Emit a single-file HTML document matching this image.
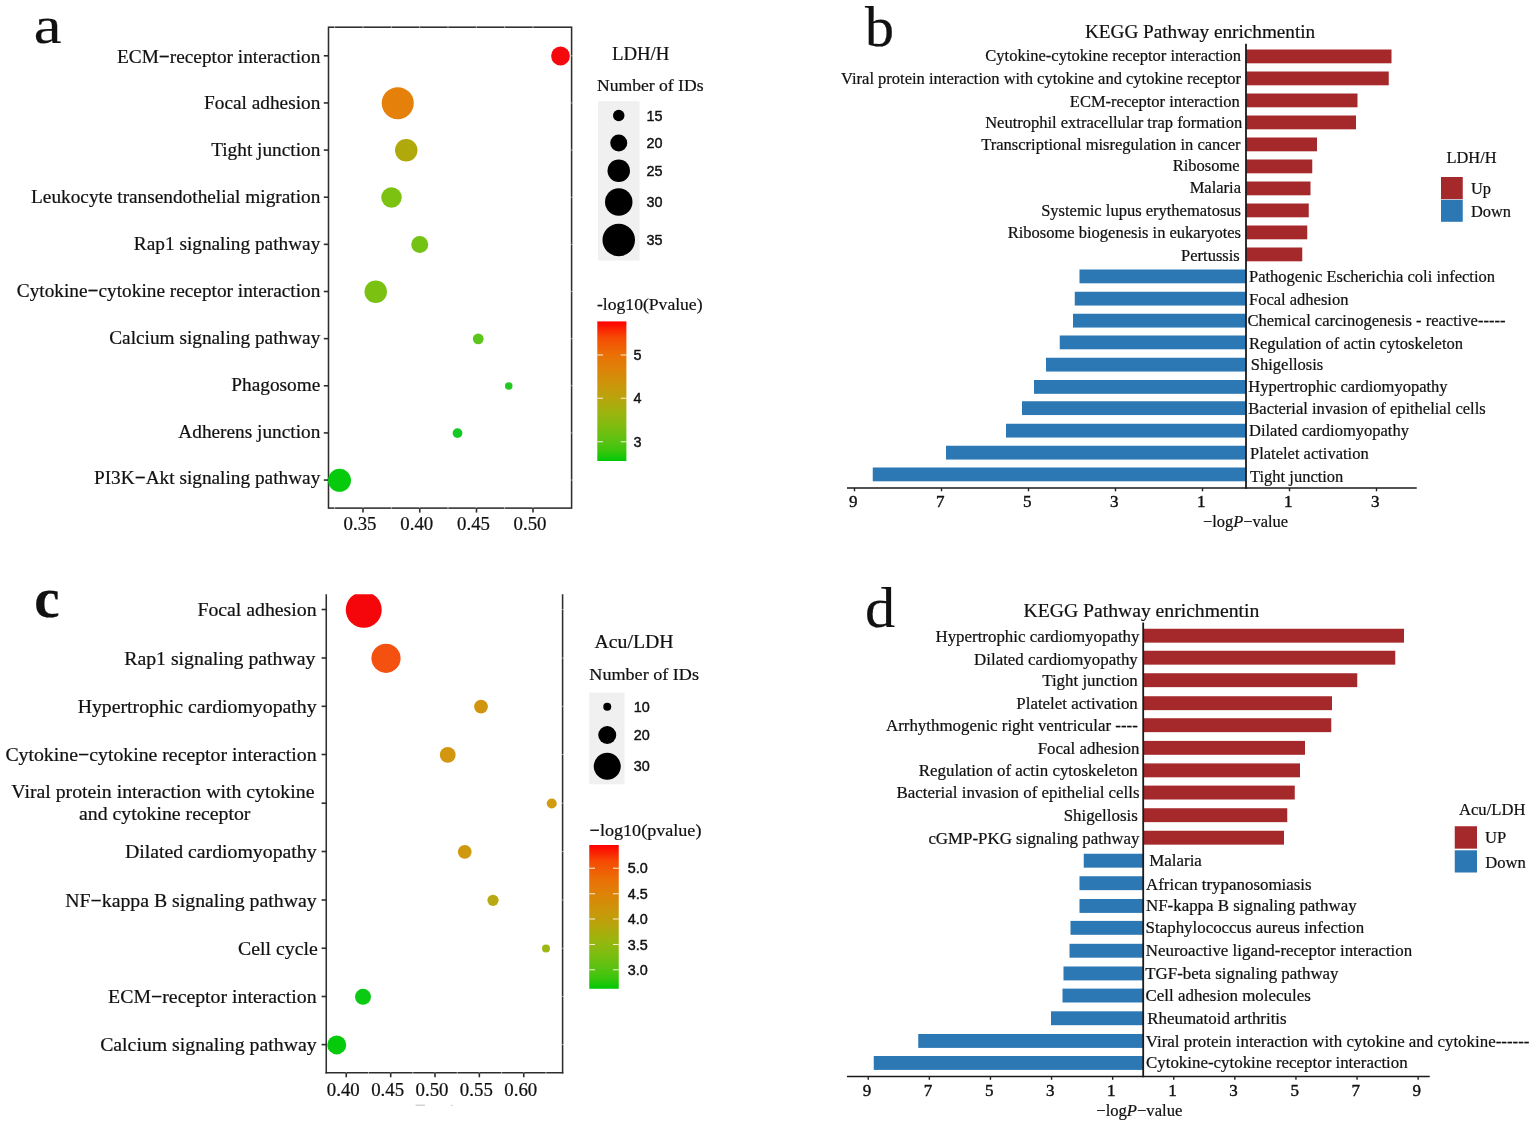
<!DOCTYPE html>
<html lang="en"><head><meta charset="utf-8"><title>KEGG pathway enrichment figure</title>
<style>
html,body{margin:0;padding:0;background:#fff}
svg{display:block}
text{fill:#111;stroke:#111;stroke-width:0.22px}
.s{font-family:"Liberation Serif","Times New Roman",serif}
.a{font-family:"Liberation Sans",Arial,sans-serif;stroke-width:0.42px}
</style></head><body>
<svg width="1535" height="1122" viewBox="0 0 1535 1122">
<rect width="1535" height="1122" fill="#fff"/>
<defs><linearGradient id="g1" x1="0" y1="1" x2="0" y2="0"><stop offset="0" stop-color="#00c805"/><stop offset="0.07" stop-color="#38c50c"/><stop offset="0.14" stop-color="#58c212"/><stop offset="0.25" stop-color="#80bc10"/><stop offset="0.35" stop-color="#9db40e"/><stop offset="0.45" stop-color="#b9a40c"/><stop offset="0.55" stop-color="#cc950a"/><stop offset="0.65" stop-color="#dc8408"/><stop offset="0.76" stop-color="#ea7006"/><stop offset="0.88" stop-color="#f54c04"/><stop offset="1" stop-color="#ff0000"/></linearGradient><clipPath id="cc"><rect x="320" y="594.25" width="250" height="480"/></clipPath></defs>
<g id="panel-a">
<text class="s" transform="translate(33.80 43.45) scale(1.1900 1)" font-size="52.5">a</text>
<rect x="328.5" y="27.2" width="243.10" height="480.90" fill="none" stroke="#2e2e2e" stroke-width="1.55"/>
<rect x="334.17" y="26.20" width="1" height="2" fill="#fff" opacity="0.55"/>
<rect x="334.17" y="507.10" width="1" height="2" fill="#fff" opacity="0.55"/>
<rect x="362.50" y="26.20" width="1" height="2" fill="#fff" opacity="0.55"/>
<rect x="362.50" y="507.10" width="1" height="2" fill="#fff" opacity="0.55"/>
<rect x="390.83" y="26.20" width="1" height="2" fill="#fff" opacity="0.55"/>
<rect x="390.83" y="507.10" width="1" height="2" fill="#fff" opacity="0.55"/>
<rect x="419.16" y="26.20" width="1" height="2" fill="#fff" opacity="0.55"/>
<rect x="419.16" y="507.10" width="1" height="2" fill="#fff" opacity="0.55"/>
<rect x="447.49" y="26.20" width="1" height="2" fill="#fff" opacity="0.55"/>
<rect x="447.49" y="507.10" width="1" height="2" fill="#fff" opacity="0.55"/>
<rect x="475.82" y="26.20" width="1" height="2" fill="#fff" opacity="0.55"/>
<rect x="475.82" y="507.10" width="1" height="2" fill="#fff" opacity="0.55"/>
<rect x="504.15" y="26.20" width="1" height="2" fill="#fff" opacity="0.55"/>
<rect x="504.15" y="507.10" width="1" height="2" fill="#fff" opacity="0.55"/>
<rect x="532.48" y="26.20" width="1" height="2" fill="#fff" opacity="0.55"/>
<rect x="532.48" y="507.10" width="1" height="2" fill="#fff" opacity="0.55"/>
<rect x="570.60" y="55.30" width="2" height="1" fill="#fff" opacity="0.55"/>
<rect x="570.60" y="102.44" width="2" height="1" fill="#fff" opacity="0.55"/>
<rect x="570.60" y="149.58" width="2" height="1" fill="#fff" opacity="0.55"/>
<rect x="570.60" y="196.72" width="2" height="1" fill="#fff" opacity="0.55"/>
<rect x="570.60" y="243.86" width="2" height="1" fill="#fff" opacity="0.55"/>
<rect x="570.60" y="291.00" width="2" height="1" fill="#fff" opacity="0.55"/>
<rect x="570.60" y="338.14" width="2" height="1" fill="#fff" opacity="0.55"/>
<rect x="570.60" y="385.28" width="2" height="1" fill="#fff" opacity="0.55"/>
<rect x="570.60" y="432.42" width="2" height="1" fill="#fff" opacity="0.55"/>
<rect x="570.60" y="479.56" width="2" height="1" fill="#fff" opacity="0.55"/>
<line x1="323.80" y1="55.80" x2="328.50" y2="55.80" stroke="#2e2e2e" stroke-width="1.6"/>
<text class="s" transform="translate(320.30 62.60) scale(0.9850 1)" font-size="19.6" text-anchor="end">ECM<tspan font-weight="bold">−</tspan>receptor interaction</text>
<line x1="323.80" y1="102.94" x2="328.50" y2="102.94" stroke="#2e2e2e" stroke-width="1.6"/>
<text class="s" transform="translate(320.30 109.47) scale(0.9850 1)" font-size="19.6" text-anchor="end">Focal adhesion</text>
<line x1="323.80" y1="150.08" x2="328.50" y2="150.08" stroke="#2e2e2e" stroke-width="1.6"/>
<text class="s" transform="translate(320.30 156.34) scale(0.9850 1)" font-size="19.6" text-anchor="end">Tight junction</text>
<line x1="323.80" y1="197.22" x2="328.50" y2="197.22" stroke="#2e2e2e" stroke-width="1.6"/>
<text class="s" transform="translate(320.30 203.21) scale(0.9850 1)" font-size="19.6" text-anchor="end">Leukocyte transendothelial migration</text>
<line x1="323.80" y1="244.36" x2="328.50" y2="244.36" stroke="#2e2e2e" stroke-width="1.6"/>
<text class="s" transform="translate(320.30 250.08) scale(0.9850 1)" font-size="19.6" text-anchor="end">Rap1 signaling pathway</text>
<line x1="323.80" y1="291.50" x2="328.50" y2="291.50" stroke="#2e2e2e" stroke-width="1.6"/>
<text class="s" transform="translate(320.30 296.95) scale(0.9850 1)" font-size="19.6" text-anchor="end">Cytokine<tspan font-weight="bold">−</tspan>cytokine receptor interaction</text>
<line x1="323.80" y1="338.64" x2="328.50" y2="338.64" stroke="#2e2e2e" stroke-width="1.6"/>
<text class="s" transform="translate(320.30 343.82) scale(0.9850 1)" font-size="19.6" text-anchor="end">Calcium signaling pathway</text>
<line x1="323.80" y1="385.78" x2="328.50" y2="385.78" stroke="#2e2e2e" stroke-width="1.6"/>
<text class="s" transform="translate(320.30 390.69) scale(0.9850 1)" font-size="19.6" text-anchor="end">Phagosome</text>
<line x1="323.80" y1="432.92" x2="328.50" y2="432.92" stroke="#2e2e2e" stroke-width="1.6"/>
<text class="s" transform="translate(320.30 437.56) scale(0.9850 1)" font-size="19.6" text-anchor="end">Adherens junction</text>
<line x1="323.80" y1="480.06" x2="328.50" y2="480.06" stroke="#2e2e2e" stroke-width="1.6"/>
<text class="s" transform="translate(320.30 484.43) scale(0.9850 1)" font-size="19.6" text-anchor="end">PI3K<tspan font-weight="bold">−</tspan>Akt signaling pathway</text>
<line x1="363.00" y1="508.10" x2="363.00" y2="512.60" stroke="#2e2e2e" stroke-width="1.6"/>
<text class="s" transform="translate(360.00 529.70) scale(1.0200 1)" font-size="18.5" text-anchor="middle">0.35</text>
<line x1="419.75" y1="508.10" x2="419.75" y2="512.60" stroke="#2e2e2e" stroke-width="1.6"/>
<text class="s" transform="translate(416.75 529.70) scale(1.0200 1)" font-size="18.5" text-anchor="middle">0.40</text>
<line x1="476.50" y1="508.10" x2="476.50" y2="512.60" stroke="#2e2e2e" stroke-width="1.6"/>
<text class="s" transform="translate(473.50 529.70) scale(1.0200 1)" font-size="18.5" text-anchor="middle">0.45</text>
<line x1="533.00" y1="508.10" x2="533.00" y2="512.60" stroke="#2e2e2e" stroke-width="1.6"/>
<text class="s" transform="translate(530.00 529.70) scale(1.0200 1)" font-size="18.5" text-anchor="middle">0.50</text>
<circle cx="560.50" cy="56.00" r="9.40" fill="#f40a0e"/>
<circle cx="397.75" cy="103.14" r="16.00" fill="#e5800b"/>
<circle cx="406.25" cy="150.28" r="11.25" fill="#afa90c"/>
<circle cx="391.50" cy="197.42" r="10.25" fill="#7cc211"/>
<circle cx="419.75" cy="244.56" r="8.50" fill="#74c314"/>
<circle cx="375.75" cy="291.70" r="11.25" fill="#7ac112"/>
<circle cx="478.25" cy="338.84" r="5.40" fill="#5cc61a"/>
<circle cx="508.75" cy="385.98" r="3.75" fill="#22c922"/>
<circle cx="457.50" cy="433.12" r="4.90" fill="#14c825"/>
<circle cx="339.50" cy="480.26" r="11.50" fill="#06cb0c"/>
<text class="s" transform="translate(612.00 60.00)" font-size="18.8">LDH/H</text>
<text class="s" transform="translate(597.00 90.50)" font-size="17.6">Number of IDs</text>
<rect x="598.00" y="101.25" width="41.50" height="159.25" fill="#f0f0f0"/>
<circle cx="618.75" cy="115.50" r="5.75" fill="#000"/>
<text class="a" transform="translate(646.60 120.70)" font-size="14.4" fill="#1a1a1a">15</text>
<circle cx="618.75" cy="143.00" r="8.50" fill="#000"/>
<text class="a" transform="translate(646.60 148.20)" font-size="14.4" fill="#1a1a1a">20</text>
<circle cx="618.75" cy="170.75" r="11.25" fill="#000"/>
<text class="a" transform="translate(646.60 175.95)" font-size="14.4" fill="#1a1a1a">25</text>
<circle cx="618.75" cy="202.00" r="13.75" fill="#000"/>
<text class="a" transform="translate(646.60 207.20)" font-size="14.4" fill="#1a1a1a">30</text>
<circle cx="618.75" cy="240.00" r="16.25" fill="#000"/>
<text class="a" transform="translate(646.60 245.20)" font-size="14.4" fill="#1a1a1a">35</text>
<text class="s" transform="translate(597.00 309.60)" font-size="17.6">-log10(Pvalue)</text>
<rect x="597.3" y="321.4" width="29.1" height="139.6" fill="url(#g1)"/>
<line x1="597.30" y1="355.00" x2="603.00" y2="355.00" stroke="#f5e9d0" stroke-width="1.1"/>
<line x1="620.70" y1="355.00" x2="626.40" y2="355.00" stroke="#f5e9d0" stroke-width="1.1"/>
<text class="a" transform="translate(633.60 360.20)" font-size="14.4" fill="#1a1a1a">5</text>
<line x1="597.30" y1="398.25" x2="603.00" y2="398.25" stroke="#f5e9d0" stroke-width="1.1"/>
<line x1="620.70" y1="398.25" x2="626.40" y2="398.25" stroke="#f5e9d0" stroke-width="1.1"/>
<text class="a" transform="translate(633.60 403.45)" font-size="14.4" fill="#1a1a1a">4</text>
<line x1="597.30" y1="441.75" x2="603.00" y2="441.75" stroke="#f5e9d0" stroke-width="1.1"/>
<line x1="620.70" y1="441.75" x2="626.40" y2="441.75" stroke="#f5e9d0" stroke-width="1.1"/>
<text class="a" transform="translate(633.60 446.95)" font-size="14.4" fill="#1a1a1a">3</text>
</g>
<g id="panel-b">
<text class="s" transform="translate(865.00 45.50)" font-size="58">b</text>
<text class="s" transform="translate(1085.00 38.00)" font-size="19.2">KEGG Pathway enrichmentin</text>
<rect x="1246.00" y="49.50" width="145.50" height="13.80" fill="#a5282b"/>
<text class="s" transform="translate(1241.00 61.25)" font-size="16.5" text-anchor="end">Cytokine-cytokine receptor interaction</text>
<rect x="1246.00" y="71.50" width="142.75" height="13.80" fill="#a5282b"/>
<text class="s" transform="translate(1241.00 83.75)" font-size="16.5" text-anchor="end">Viral protein interaction with cytokine and cytokine receptor</text>
<rect x="1246.00" y="93.50" width="111.50" height="13.80" fill="#a5282b"/>
<text class="s" transform="translate(1239.80 107.00)" font-size="16.5" text-anchor="end">ECM-receptor interaction</text>
<rect x="1246.00" y="115.50" width="110.00" height="13.80" fill="#a5282b"/>
<text class="s" transform="translate(1242.20 127.50)" font-size="16.5" text-anchor="end">Neutrophil extracellular trap formation</text>
<rect x="1246.00" y="137.50" width="71.00" height="13.80" fill="#a5282b"/>
<text class="s" transform="translate(1240.50 150.00)" font-size="16.5" text-anchor="end">Transcriptional misregulation in cancer</text>
<rect x="1246.00" y="159.50" width="66.25" height="13.80" fill="#a5282b"/>
<text class="s" transform="translate(1239.70 171.25)" font-size="16.5" text-anchor="end">Ribosome</text>
<rect x="1246.00" y="181.50" width="64.50" height="13.80" fill="#a5282b"/>
<text class="s" transform="translate(1241.00 193.00)" font-size="16.5" text-anchor="end">Malaria</text>
<rect x="1246.00" y="203.50" width="62.75" height="13.80" fill="#a5282b"/>
<text class="s" transform="translate(1241.00 215.50)" font-size="16.5" text-anchor="end">Systemic lupus erythematosus</text>
<rect x="1246.00" y="225.50" width="61.25" height="13.80" fill="#a5282b"/>
<text class="s" transform="translate(1241.00 237.50)" font-size="16.5" text-anchor="end">Ribosome biogenesis in eukaryotes</text>
<rect x="1246.00" y="247.50" width="56.25" height="13.80" fill="#a5282b"/>
<text class="s" transform="translate(1239.80 260.50)" font-size="16.5" text-anchor="end">Pertussis</text>
<rect x="1079.50" y="269.50" width="166.50" height="13.80" fill="#2b78b4"/>
<text class="s" transform="translate(1249.00 282.00)" font-size="16.5">Pathogenic Escherichia coli infection</text>
<rect x="1074.75" y="291.75" width="171.25" height="13.80" fill="#2b78b4"/>
<text class="s" transform="translate(1249.00 304.50)" font-size="16.5">Focal adhesion</text>
<rect x="1073.00" y="313.75" width="173.00" height="13.80" fill="#2b78b4"/>
<text class="s" transform="translate(1247.50 325.50)" font-size="16.5">Chemical carcinogenesis - reactive-----</text>
<rect x="1059.75" y="335.50" width="186.25" height="13.80" fill="#2b78b4"/>
<text class="s" transform="translate(1249.00 349.25)" font-size="16.5">Regulation of actin cytoskeleton</text>
<rect x="1046.00" y="357.75" width="200.00" height="13.80" fill="#2b78b4"/>
<text class="s" transform="translate(1250.80 370.00)" font-size="16.5">Shigellosis</text>
<rect x="1034.00" y="380.00" width="212.00" height="13.80" fill="#2b78b4"/>
<text class="s" transform="translate(1248.30 392.00)" font-size="16.5">Hypertrophic cardiomyopathy</text>
<rect x="1022.00" y="401.25" width="224.00" height="13.80" fill="#2b78b4"/>
<text class="s" transform="translate(1248.30 414.25)" font-size="16.5">Bacterial invasion of epithelial cells</text>
<rect x="1006.00" y="423.75" width="240.00" height="13.80" fill="#2b78b4"/>
<text class="s" transform="translate(1249.00 435.75)" font-size="16.5">Dilated cardiomyopathy</text>
<rect x="946.00" y="445.75" width="300.00" height="13.80" fill="#2b78b4"/>
<text class="s" transform="translate(1250.00 459.00)" font-size="16.5">Platelet activation</text>
<rect x="872.75" y="467.50" width="373.25" height="13.80" fill="#2b78b4"/>
<text class="s" transform="translate(1250.00 482.00)" font-size="16.5">Tight junction</text>
<line x1="1246.00" y1="43.75" x2="1246.00" y2="488.80" stroke="#1a1a1a" stroke-width="1.8"/>
<line x1="847.00" y1="488.00" x2="1416.75" y2="488.00" stroke="#1a1a1a" stroke-width="1.6"/>
<line x1="854.50" y1="488.00" x2="854.50" y2="491.30" stroke="#222" stroke-width="1.4"/>
<text class="s" x="853.20" y="507" font-size="17" text-anchor="middle" style="stroke-width:0.42px">9</text>
<line x1="941.50" y1="488.00" x2="941.50" y2="491.30" stroke="#222" stroke-width="1.4"/>
<text class="s" x="940.20" y="507" font-size="17" text-anchor="middle" style="stroke-width:0.42px">7</text>
<line x1="1028.50" y1="488.00" x2="1028.50" y2="491.30" stroke="#222" stroke-width="1.4"/>
<text class="s" x="1027.20" y="507" font-size="17" text-anchor="middle" style="stroke-width:0.42px">5</text>
<line x1="1115.50" y1="488.00" x2="1115.50" y2="491.30" stroke="#222" stroke-width="1.4"/>
<text class="s" x="1114.20" y="507" font-size="17" text-anchor="middle" style="stroke-width:0.42px">3</text>
<line x1="1202.50" y1="488.00" x2="1202.50" y2="491.30" stroke="#222" stroke-width="1.4"/>
<text class="s" x="1201.20" y="507" font-size="17" text-anchor="middle" style="stroke-width:0.42px">1</text>
<line x1="1289.50" y1="488.00" x2="1289.50" y2="491.30" stroke="#222" stroke-width="1.4"/>
<text class="s" x="1288.20" y="507" font-size="17" text-anchor="middle" style="stroke-width:0.42px">1</text>
<line x1="1376.50" y1="488.00" x2="1376.50" y2="491.30" stroke="#222" stroke-width="1.4"/>
<text class="s" x="1375.20" y="507" font-size="17" text-anchor="middle" style="stroke-width:0.42px">3</text>
<text class="s" transform="translate(1203.00 527.30)" font-size="16.4">−log<tspan font-style="italic">P</tspan>−value</text>
<text class="s" transform="translate(1446.50 162.50)" font-size="16.4">LDH/H</text>
<rect x="1441.00" y="177.00" width="21.75" height="22.20" fill="#a5282b"/>
<rect x="1441.00" y="199.80" width="21.75" height="22.00" fill="#2b78b4"/>
<text class="s" transform="translate(1471.00 193.75)" font-size="16.4">Up</text>
<text class="s" transform="translate(1471.00 217.00)" font-size="16.4">Down</text>
</g>
<g id="panel-c">
<text class="s" transform="translate(34.30 616.50)" font-size="57" font-weight="bold">c</text>
<line x1="326.25" y1="594.25" x2="326.25" y2="1073.55" stroke="#2e2e2e" stroke-width="1.55"/>
<line x1="562.60" y1="594.25" x2="562.60" y2="1073.55" stroke="#2e2e2e" stroke-width="1.55"/>
<line x1="325.50" y1="1072.80" x2="563.35" y2="1072.80" stroke="#2e2e2e" stroke-width="1.55"/>
<rect x="345.75" y="1071.80" width="1" height="2" fill="#fff" opacity="0.55"/>
<rect x="367.94" y="1071.80" width="1" height="2" fill="#fff" opacity="0.55"/>
<rect x="390.13" y="1071.80" width="1" height="2" fill="#fff" opacity="0.55"/>
<rect x="412.32" y="1071.80" width="1" height="2" fill="#fff" opacity="0.55"/>
<rect x="434.51" y="1071.80" width="1" height="2" fill="#fff" opacity="0.55"/>
<rect x="456.70" y="1071.80" width="1" height="2" fill="#fff" opacity="0.55"/>
<rect x="478.89" y="1071.80" width="1" height="2" fill="#fff" opacity="0.55"/>
<rect x="501.08" y="1071.80" width="1" height="2" fill="#fff" opacity="0.55"/>
<rect x="523.27" y="1071.80" width="1" height="2" fill="#fff" opacity="0.55"/>
<rect x="545.46" y="1071.80" width="1" height="2" fill="#fff" opacity="0.55"/>
<rect x="561.60" y="609.00" width="2" height="1" fill="#fff" opacity="0.55"/>
<rect x="561.60" y="657.50" width="2" height="1" fill="#fff" opacity="0.55"/>
<rect x="561.60" y="705.80" width="2" height="1" fill="#fff" opacity="0.55"/>
<rect x="561.60" y="754.00" width="2" height="1" fill="#fff" opacity="0.55"/>
<rect x="561.60" y="802.70" width="2" height="1" fill="#fff" opacity="0.55"/>
<rect x="561.60" y="851.00" width="2" height="1" fill="#fff" opacity="0.55"/>
<rect x="561.60" y="899.50" width="2" height="1" fill="#fff" opacity="0.55"/>
<rect x="561.60" y="947.75" width="2" height="1" fill="#fff" opacity="0.55"/>
<rect x="561.60" y="996.00" width="2" height="1" fill="#fff" opacity="0.55"/>
<rect x="561.60" y="1044.10" width="2" height="1" fill="#fff" opacity="0.55"/>
<line x1="321.60" y1="609.50" x2="326.25" y2="609.50" stroke="#2e2e2e" stroke-width="1.6"/>
<text class="s" transform="translate(316.60 616.20)" font-size="19.8" text-anchor="end">Focal adhesion</text>
<line x1="321.60" y1="658.00" x2="326.25" y2="658.00" stroke="#2e2e2e" stroke-width="1.6"/>
<text class="s" transform="translate(315.40 664.70)" font-size="19.8" text-anchor="end">Rap1 signaling pathway</text>
<line x1="321.60" y1="706.30" x2="326.25" y2="706.30" stroke="#2e2e2e" stroke-width="1.6"/>
<text class="s" transform="translate(316.60 713.00)" font-size="19.8" text-anchor="end">Hypertrophic cardiomyopathy</text>
<line x1="321.60" y1="754.50" x2="326.25" y2="754.50" stroke="#2e2e2e" stroke-width="1.6"/>
<text class="s" transform="translate(316.60 761.20)" font-size="19.8" text-anchor="end">Cytokine<tspan font-weight="bold">−</tspan>cytokine receptor interaction</text>
<line x1="321.60" y1="803.20" x2="326.25" y2="803.20" stroke="#2e2e2e" stroke-width="1.6"/>
<line x1="321.60" y1="851.50" x2="326.25" y2="851.50" stroke="#2e2e2e" stroke-width="1.6"/>
<text class="s" transform="translate(316.60 858.20)" font-size="19.8" text-anchor="end">Dilated cardiomyopathy</text>
<line x1="321.60" y1="900.00" x2="326.25" y2="900.00" stroke="#2e2e2e" stroke-width="1.6"/>
<text class="s" transform="translate(316.60 906.70)" font-size="19.8" text-anchor="end">NF<tspan font-weight="bold">−</tspan>kappa B signaling pathway</text>
<line x1="321.60" y1="948.25" x2="326.25" y2="948.25" stroke="#2e2e2e" stroke-width="1.6"/>
<text class="s" transform="translate(317.70 954.95)" font-size="19.8" text-anchor="end">Cell cycle</text>
<line x1="321.60" y1="996.50" x2="326.25" y2="996.50" stroke="#2e2e2e" stroke-width="1.6"/>
<text class="s" transform="translate(316.60 1003.20)" font-size="19.8" text-anchor="end">ECM<tspan font-weight="bold">−</tspan>receptor interaction</text>
<line x1="321.60" y1="1044.60" x2="326.25" y2="1044.60" stroke="#2e2e2e" stroke-width="1.6"/>
<text class="s" transform="translate(316.60 1051.30)" font-size="19.8" text-anchor="end">Calcium signaling pathway</text>
<text class="s" transform="translate(11.30 797.50)" font-size="19.8">Viral protein interaction with cytokine</text>
<text class="s" transform="translate(79.00 819.50)" font-size="19.8">and cytokine receptor</text>
<line x1="346.25" y1="1072.80" x2="346.25" y2="1077.30" stroke="#2e2e2e" stroke-width="1.6"/>
<text class="s" transform="translate(343.25 1095.90) scale(1.0200 1)" font-size="18.5" text-anchor="middle">0.40</text>
<line x1="390.70" y1="1072.80" x2="390.70" y2="1077.30" stroke="#2e2e2e" stroke-width="1.6"/>
<text class="s" transform="translate(387.70 1095.90) scale(1.0200 1)" font-size="18.5" text-anchor="middle">0.45</text>
<line x1="435.00" y1="1072.80" x2="435.00" y2="1077.30" stroke="#2e2e2e" stroke-width="1.6"/>
<text class="s" transform="translate(432.00 1095.90) scale(1.0200 1)" font-size="18.5" text-anchor="middle">0.50</text>
<line x1="479.35" y1="1072.80" x2="479.35" y2="1077.30" stroke="#2e2e2e" stroke-width="1.6"/>
<text class="s" transform="translate(476.35 1095.90) scale(1.0200 1)" font-size="18.5" text-anchor="middle">0.55</text>
<line x1="523.75" y1="1072.80" x2="523.75" y2="1077.30" stroke="#2e2e2e" stroke-width="1.6"/>
<text class="s" transform="translate(520.75 1095.90) scale(1.0200 1)" font-size="18.5" text-anchor="middle">0.60</text>
<circle cx="363.75" cy="609.80" r="18.00" fill="#f5060a" clip-path="url(#cc)"/>
<circle cx="386.00" cy="658.30" r="14.60" fill="#f4500f" clip-path="url(#cc)"/>
<circle cx="481.00" cy="706.60" r="6.90" fill="#d1940f" clip-path="url(#cc)"/>
<circle cx="447.75" cy="754.80" r="7.90" fill="#d3960f" clip-path="url(#cc)"/>
<circle cx="551.75" cy="803.50" r="5.00" fill="#d29c12" clip-path="url(#cc)"/>
<circle cx="464.75" cy="851.80" r="6.90" fill="#cf980f" clip-path="url(#cc)"/>
<circle cx="493.00" cy="900.30" r="5.60" fill="#b8a812" clip-path="url(#cc)"/>
<circle cx="546.00" cy="948.55" r="4.00" fill="#9cb814" clip-path="url(#cc)"/>
<circle cx="363.00" cy="996.80" r="8.00" fill="#0cca14" clip-path="url(#cc)"/>
<circle cx="336.75" cy="1044.90" r="9.50" fill="#06cb0c" clip-path="url(#cc)"/>
<text class="s" transform="translate(594.50 647.50) scale(1.0410 1)" font-size="19">Acu/LDH</text>
<text class="s" transform="translate(589.30 680.40) scale(1.0300 1)" font-size="17.6">Number of IDs</text>
<rect x="589.25" y="692.50" width="35.25" height="91.75" fill="#f0f0f0"/>
<circle cx="607.25" cy="706.75" r="4.00" fill="#000"/>
<text class="a" transform="translate(633.80 711.95)" font-size="14.4" fill="#1a1a1a">10</text>
<circle cx="607.25" cy="735.00" r="9.00" fill="#000"/>
<text class="a" transform="translate(633.80 740.20)" font-size="14.4" fill="#1a1a1a">20</text>
<circle cx="607.25" cy="766.25" r="13.50" fill="#000"/>
<text class="a" transform="translate(633.80 771.45)" font-size="14.4" fill="#1a1a1a">30</text>
<text class="s" transform="translate(589.60 835.50) scale(1.0290 1)" font-size="17.6"><tspan font-weight="bold">−</tspan>log10(pvalue)</text>
<rect x="589.25" y="845" width="29.5" height="143.75" fill="url(#g1)"/>
<line x1="589.25" y1="868.25" x2="595.00" y2="868.25" stroke="#f5e9d0" stroke-width="1.1"/>
<line x1="613.00" y1="868.25" x2="618.75" y2="868.25" stroke="#f5e9d0" stroke-width="1.1"/>
<text class="a" transform="translate(627.70 873.45)" font-size="14.4" fill="#1a1a1a">5.0</text>
<line x1="589.25" y1="893.75" x2="595.00" y2="893.75" stroke="#f5e9d0" stroke-width="1.1"/>
<line x1="613.00" y1="893.75" x2="618.75" y2="893.75" stroke="#f5e9d0" stroke-width="1.1"/>
<text class="a" transform="translate(627.70 898.95)" font-size="14.4" fill="#1a1a1a">4.5</text>
<line x1="589.25" y1="919.00" x2="595.00" y2="919.00" stroke="#f5e9d0" stroke-width="1.1"/>
<line x1="613.00" y1="919.00" x2="618.75" y2="919.00" stroke="#f5e9d0" stroke-width="1.1"/>
<text class="a" transform="translate(627.70 924.20)" font-size="14.4" fill="#1a1a1a">4.0</text>
<line x1="589.25" y1="944.50" x2="595.00" y2="944.50" stroke="#f5e9d0" stroke-width="1.1"/>
<line x1="613.00" y1="944.50" x2="618.75" y2="944.50" stroke="#f5e9d0" stroke-width="1.1"/>
<text class="a" transform="translate(627.70 949.70)" font-size="14.4" fill="#1a1a1a">3.5</text>
<line x1="589.25" y1="969.75" x2="595.00" y2="969.75" stroke="#f5e9d0" stroke-width="1.1"/>
<line x1="613.00" y1="969.75" x2="618.75" y2="969.75" stroke="#f5e9d0" stroke-width="1.1"/>
<text class="a" transform="translate(627.70 974.95)" font-size="14.4" fill="#1a1a1a">3.0</text>
<rect x="415.50" y="1104.60" width="9.50" height="1.20" fill="#c8c8c8"/>
<rect x="451.00" y="1104.80" width="1.50" height="1.20" fill="#c8c8c8"/>
</g>
<g id="panel-d">
<text class="s" transform="translate(864.90 627.00) scale(1.0400 1)" font-size="58">d</text>
<text class="s" transform="translate(1023.60 617.00)" font-size="19.65">KEGG Pathway enrichmentin</text>
<rect x="1143.20" y="628.75" width="260.80" height="13.90" fill="#a5282b"/>
<text class="s" transform="translate(1139.50 641.75)" font-size="16.9" text-anchor="end">Hypertrophic cardiomyopathy</text>
<rect x="1143.20" y="650.75" width="252.05" height="13.90" fill="#a5282b"/>
<text class="s" transform="translate(1137.80 665.00)" font-size="16.9" text-anchor="end">Dilated cardiomyopathy</text>
<rect x="1143.20" y="673.25" width="214.05" height="13.90" fill="#a5282b"/>
<text class="s" transform="translate(1137.80 685.50)" font-size="16.9" text-anchor="end">Tight junction</text>
<rect x="1143.20" y="696.25" width="188.80" height="13.90" fill="#a5282b"/>
<text class="s" transform="translate(1137.80 708.75)" font-size="16.9" text-anchor="end">Platelet activation</text>
<rect x="1143.20" y="718.25" width="188.05" height="13.90" fill="#a5282b"/>
<text class="s" transform="translate(1137.80 730.50)" font-size="16.9" text-anchor="end">Arrhythmogenic right ventricular ----</text>
<rect x="1143.20" y="740.90" width="161.80" height="13.90" fill="#a5282b"/>
<text class="s" transform="translate(1139.50 754.25)" font-size="16.9" text-anchor="end">Focal adhesion</text>
<rect x="1143.20" y="763.40" width="156.80" height="13.90" fill="#a5282b"/>
<text class="s" transform="translate(1137.80 776.25)" font-size="16.9" text-anchor="end">Regulation of actin cytoskeleton</text>
<rect x="1143.20" y="785.60" width="151.55" height="13.90" fill="#a5282b"/>
<text class="s" transform="translate(1139.50 797.50)" font-size="16.9" text-anchor="end">Bacterial invasion of epithelial cells</text>
<rect x="1143.20" y="808.25" width="144.05" height="13.90" fill="#a5282b"/>
<text class="s" transform="translate(1137.80 820.75)" font-size="16.9" text-anchor="end">Shigellosis</text>
<rect x="1143.20" y="830.75" width="140.80" height="13.90" fill="#a5282b"/>
<text class="s" transform="translate(1139.50 843.75)" font-size="16.9" text-anchor="end">cGMP-PKG signaling pathway</text>
<rect x="1083.75" y="853.75" width="59.45" height="13.90" fill="#2b78b4"/>
<text class="s" transform="translate(1149.30 865.75)" font-size="16.9">Malaria</text>
<rect x="1079.50" y="876.25" width="63.70" height="13.90" fill="#2b78b4"/>
<text class="s" transform="translate(1146.00 890.00)" font-size="16.9">African trypanosomiasis</text>
<rect x="1079.50" y="899.00" width="63.70" height="13.90" fill="#2b78b4"/>
<text class="s" transform="translate(1146.00 911.25)" font-size="16.9">NF-kappa B signaling pathway</text>
<rect x="1070.50" y="920.90" width="72.70" height="13.90" fill="#2b78b4"/>
<text class="s" transform="translate(1145.60 932.50)" font-size="16.9">Staphylococcus aureus infection</text>
<rect x="1069.50" y="943.80" width="73.70" height="13.90" fill="#2b78b4"/>
<text class="s" transform="translate(1145.80 955.75)" font-size="16.9">Neuroactive ligand-receptor interaction</text>
<rect x="1063.50" y="966.50" width="79.70" height="13.90" fill="#2b78b4"/>
<text class="s" transform="translate(1145.30 978.75)" font-size="16.9">TGF-beta signaling pathway</text>
<rect x="1062.50" y="988.60" width="80.70" height="13.90" fill="#2b78b4"/>
<text class="s" transform="translate(1145.60 1001.25)" font-size="16.9">Cell adhesion molecules</text>
<rect x="1051.00" y="1011.30" width="92.20" height="13.90" fill="#2b78b4"/>
<text class="s" transform="translate(1147.30 1024.00)" font-size="16.9">Rheumatoid arthritis</text>
<rect x="918.25" y="1034.00" width="224.95" height="13.90" fill="#2b78b4"/>
<text class="s" transform="translate(1145.80 1047.00)" font-size="16.9">Viral protein interaction with cytokine and cytokine------</text>
<rect x="873.75" y="1056.00" width="269.45" height="13.90" fill="#2b78b4"/>
<text class="s" transform="translate(1146.00 1068.25)" font-size="16.9">Cytokine-cytokine receptor interaction</text>
<line x1="1143.20" y1="622.50" x2="1143.20" y2="1077.30" stroke="#1a1a1a" stroke-width="1.8"/>
<line x1="847.00" y1="1076.50" x2="1429.75" y2="1076.50" stroke="#1a1a1a" stroke-width="1.6"/>
<line x1="868.25" y1="1076.50" x2="868.25" y2="1079.80" stroke="#222" stroke-width="1.4"/>
<text class="s" x="866.95" y="1096" font-size="17" text-anchor="middle" style="stroke-width:0.42px">9</text>
<line x1="929.35" y1="1076.50" x2="929.35" y2="1079.80" stroke="#222" stroke-width="1.4"/>
<text class="s" x="928.05" y="1096" font-size="17" text-anchor="middle" style="stroke-width:0.42px">7</text>
<line x1="990.45" y1="1076.50" x2="990.45" y2="1079.80" stroke="#222" stroke-width="1.4"/>
<text class="s" x="989.15" y="1096" font-size="17" text-anchor="middle" style="stroke-width:0.42px">5</text>
<line x1="1051.55" y1="1076.50" x2="1051.55" y2="1079.80" stroke="#222" stroke-width="1.4"/>
<text class="s" x="1050.25" y="1096" font-size="17" text-anchor="middle" style="stroke-width:0.42px">3</text>
<line x1="1112.65" y1="1076.50" x2="1112.65" y2="1079.80" stroke="#222" stroke-width="1.4"/>
<text class="s" x="1111.35" y="1096" font-size="17" text-anchor="middle" style="stroke-width:0.42px">1</text>
<line x1="1173.75" y1="1076.50" x2="1173.75" y2="1079.80" stroke="#222" stroke-width="1.4"/>
<text class="s" x="1172.45" y="1096" font-size="17" text-anchor="middle" style="stroke-width:0.42px">1</text>
<line x1="1234.85" y1="1076.50" x2="1234.85" y2="1079.80" stroke="#222" stroke-width="1.4"/>
<text class="s" x="1233.55" y="1096" font-size="17" text-anchor="middle" style="stroke-width:0.42px">3</text>
<line x1="1295.95" y1="1076.50" x2="1295.95" y2="1079.80" stroke="#222" stroke-width="1.4"/>
<text class="s" x="1294.65" y="1096" font-size="17" text-anchor="middle" style="stroke-width:0.42px">5</text>
<line x1="1357.05" y1="1076.50" x2="1357.05" y2="1079.80" stroke="#222" stroke-width="1.4"/>
<text class="s" x="1355.75" y="1096" font-size="17" text-anchor="middle" style="stroke-width:0.42px">7</text>
<line x1="1418.15" y1="1076.50" x2="1418.15" y2="1079.80" stroke="#222" stroke-width="1.4"/>
<text class="s" x="1416.85" y="1096" font-size="17" text-anchor="middle" style="stroke-width:0.42px">9</text>
<text class="s" transform="translate(1096.30 1115.75)" font-size="16.6">−log<tspan font-style="italic">P</tspan>−value</text>
<text class="s" transform="translate(1459.00 815.00)" font-size="16.6">Acu/LDH</text>
<rect x="1454.75" y="826.25" width="22.25" height="22.40" fill="#a5282b"/>
<rect x="1454.75" y="850.30" width="22.25" height="22.20" fill="#2b78b4"/>
<text class="s" transform="translate(1485.00 842.50)" font-size="16.6">UP</text>
<text class="s" transform="translate(1485.30 867.50)" font-size="16.6">Down</text>
</g>
</svg>
</body></html>
